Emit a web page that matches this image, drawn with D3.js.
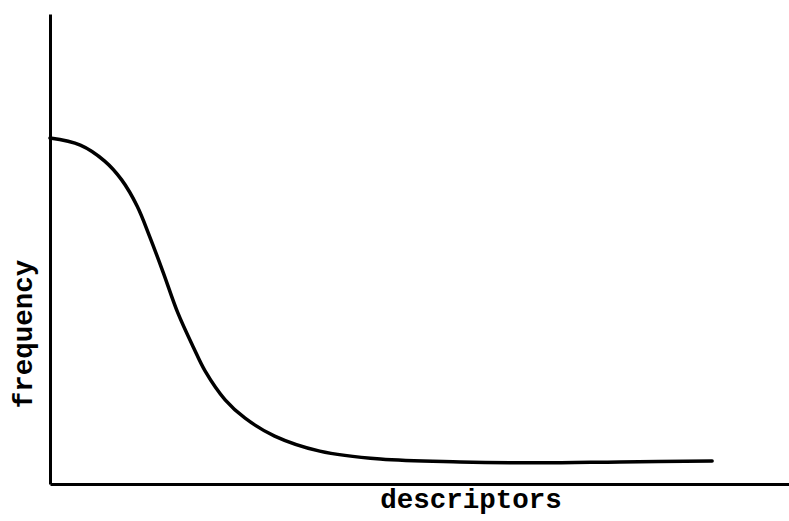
<!DOCTYPE html>
<html><head><meta charset="utf-8">
<script src="https://cdn.jsdelivr.net/npm/d3@7"></script>
<style>html,body{margin:0;padding:0;background:#fff;}svg{display:block;}</style>
</head><body>
<script>
const xLabel = "descriptors";
const yLabel = "frequency";
const descriptorX = [0, 4.1, 7.4, 9.7, 11.8, 13.5, 15.3, 17.3, 19.4, 21.0, 23.7, 26.4, 30.4, 36.5, 44.7, 55.5, 66.3, 77.1, 89.6];
const frequencyY = [73.6, 72.1, 68.7, 64.7, 59.1, 52.6, 45.1, 36.4, 29.1, 24.0, 17.9, 14.0, 10.2, 7.0, 5.3, 4.7, 4.5, 4.7, 4.9];

const W = 789, H = 521;
const svg = d3.select("body").append("svg").attr("width", W).attr("height", H);
const x = d3.scaleLinear().domain([0, 100]).range([50, 789]);
const y = d3.scaleLinear().domain([0, 100]).range([484, 14]);

// axes
svg.append("g").attr("transform", `translate(0,${y(0)})`)
  .call(d3.axisBottom(x).ticks(0).tickSize(0).tickSizeOuter(0))
  .call(g => g.select(".domain").attr("stroke", "#000").attr("stroke-width", 3));
svg.append("g").attr("transform", `translate(${x(0)},0)`)
  .call(d3.axisLeft(y).ticks(0).tickSize(0).tickSizeOuter(0))
  .call(g => g.select(".domain").attr("stroke", "#000").attr("stroke-width", 3));

const data = descriptorX.map((d, i) => ({x: d, y: frequencyY[i]}));
const line = d3.line().x(d => x(d.x)).y(d => y(d.y)).curve(d3.curveCatmullRom.alpha(0.5));
svg.append("path").datum(data).attr("d", line)
  .attr("fill", "none").attr("stroke", "#000").attr("stroke-width", 3.5)
  .attr("stroke-linecap", "round");

const font = "'Liberation Mono', 'DejaVu Sans Mono', monospace";
svg.append("text").attr("x", 471).attr("y", 508).attr("text-anchor", "middle")
  .attr("font-family", font).attr("font-weight", "bold").attr("font-size", 27.5)
  .attr("fill", "#000").text(xLabel);
svg.append("text").attr("transform", "translate(32,334) rotate(-90)").attr("text-anchor", "middle")
  .attr("font-family", font).attr("font-weight", "bold").attr("font-size", 27.5)
  .attr("fill", "#000").text(yLabel);
</script>
</body></html>
